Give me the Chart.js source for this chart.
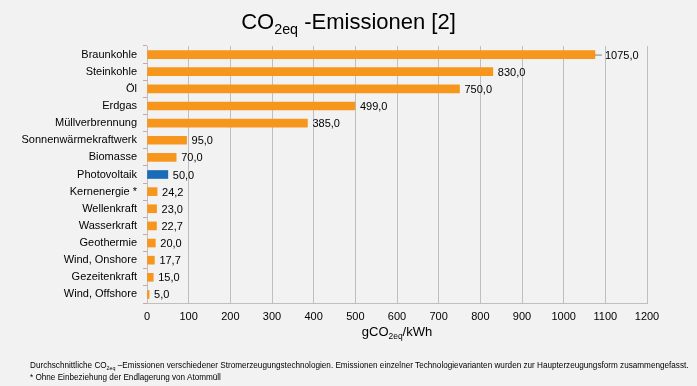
<!DOCTYPE html>
<html>
<head>
<meta charset="utf-8">
<script src="https://cdn.jsdelivr.net/npm/chart.js@4"></script>
<style>
  body { margin: 0; background: #f2f2f2; font-family: "Liberation Sans", Arial, sans-serif; }
  #wrap { position: relative; width: 697px; height: 386px; overflow: hidden; }
  #chart { position: absolute; left: 0; top: 0; }
  .title { position: absolute; left: 0; width: 697px; top: 9px; text-align: center; font-size: 22px; color: #000; }
  .xtitle { position: absolute; left: 147px; width: 500px; top: 324px; text-align: center; font-size: 13px; color: #000; }
  sub { font-size: 65%; vertical-align: -0.35em; line-height: 0; }
  .note { position: absolute; left: 30px; top: 359px; font-size: 9px; line-height: 12px; color: #000; white-space: nowrap; transform-origin: 0 0; }
</style>
</head>
<body>
<div id="wrap">
  <canvas id="chart" width="697" height="386"></canvas>
  <div class="title">CO<sub>2eq</sub> -Emissionen [2]</div>
  <div class="xtitle">gCO<sub>2eq</sub>/kWh</div>
  <div class="note" id="note">Durchschnittliche CO<sub>2eq</sub> –Emissionen verschiedener Stromerzeugungstechnologien. Emissionen einzelner Technologievarianten wurden zur Haupterzeugungsform zusammengefasst.<br>* Ohne Einbeziehung der Endlagerung von Atommüll</div>
</div>
<script>
// categories, top to bottom
const CATEGORIES = [
  "Braunkohle", "Steinkohle", "Öl", "Erdgas", "Müllverbrennung",
  "Sonnenwärmekraftwerk", "Biomasse", "Photovoltaik", "Kernenergie *",
  "Wellenkraft", "Wasserkraft", "Geothermie", "Wind, Onshore",
  "Gezeitenkraft", "Wind, Offshore"
];

// gCO2eq/kWh
const EMISSIONS = [1075, 830, 750, 499, 385, 95, 70, 50, 24.2, 23, 22.7, 20, 17.7, 15, 5];

const X_TICKS = [0, 100, 200, 300, 400, 500, 600, 700, 800, 900, 1000, 1100, 1200];

const ORANGE = "#f7961c";
const BLUE = "#1b6cb8";

// highlight Photovoltaik
const barColors = CATEGORIES.map(c => c === "Photovoltaik" ? BLUE : ORANGE);

// squeeze the footnote to the narrow width of the original
const note = document.getElementById("note");
note.style.transform = "scaleX(" + (659 / note.scrollWidth) + ")";

// value labels with german decimal comma
const valueLabels = {
  id: "valueLabels",
  afterDatasetsDraw(chart) {
    const ctx = chart.ctx;
    const meta = chart.getDatasetMeta(0);
    ctx.save();
    ctx.font = "11px 'Liberation Sans', Arial, sans-serif";
    ctx.fillStyle = "#000";
    ctx.textBaseline = "middle";
    meta.data.forEach((bar, i) => {
      const txt = EMISSIONS[i].toFixed(1).replace(".", ",");
      let x = bar.x + 5;
      if (i === 0) {
        // longest bar: label pushed out with a small leader line
        ctx.strokeStyle = "#7f7f7f";
        ctx.lineWidth = 1;
        ctx.beginPath();
        ctx.moveTo(bar.x, bar.y + 0.5);
        ctx.lineTo(bar.x + 7, bar.y + 0.5);
        ctx.stroke();
        x = bar.x + 10;
      }
      ctx.fillText(txt, x, bar.y + 1);
    });
    ctx.restore();
  }
};

new Chart(document.getElementById("chart"), {
  type: "bar",
  data: {
    labels: CATEGORIES,
    datasets: [
      {
        data: EMISSIONS,
        backgroundColor: barColors,
        barThickness: 8,
      },
    ],
  },
  options: {
    indexAxis: "y",
    responsive: false,
    animation: false,
    layout: { padding: { left: 0, top: 46, right: 50, bottom: 63 } },
    plugins: {
      legend: { display: false },
      tooltip: { enabled: false },
    },
    scales: {
      x: {
        min: 0,
        max: 1200,
        afterBuildTicks: (scale) => { scale.ticks = X_TICKS.map(v => ({ value: v })); },
        afterFit: (scale) => { scale.height = 20; },
        grid: { color: "#bfbfbf", drawTicks: false },
        border: { color: "#bfbfbf" },
        ticks: {
          padding: 7,
          color: "#000",
          font: { family: "'Liberation Sans', Arial, sans-serif", size: 11 },
          callback: (v) => String(v),
        },
      },
      y: {
        afterFit: (scale) => { scale.width = 147; },
        grid: { drawOnChartArea: false, tickLength: 4, color: "#d9a0a0" },
        border: { color: "#bfbfbf" },
        ticks: {
          padding: 6,
          color: "#000",
          font: { family: "'Liberation Sans', Arial, sans-serif", size: 11 },
        },
      },
    },
  },
  plugins: [valueLabels],
});
</script>
</body>
</html>
